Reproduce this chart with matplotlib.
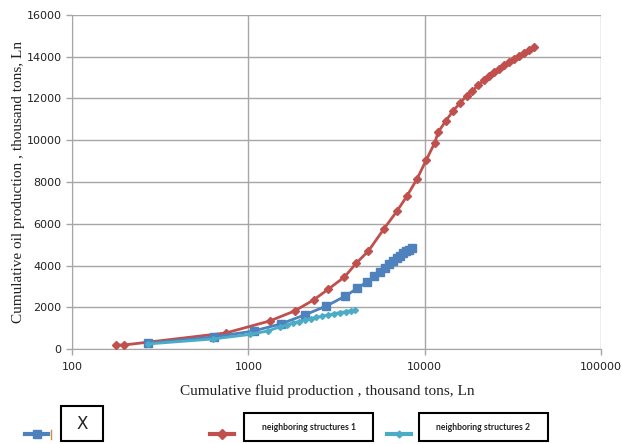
import numpy as np
import matplotlib
matplotlib.use("Agg")
import matplotlib.pyplot as plt
from matplotlib.lines import Line2D
from matplotlib.patches import Rectangle

# well X
x_fluid = [269, 636, 1072, 1523, 2083, 2774, 3553, 4155, 4733, 5185,
           5607, 5984, 6305, 6641, 6998, 7278, 7568, 7870, 8184, 8511]
x_oil = [273, 575, 862, 1198, 1629, 2060, 2539, 2908, 3233, 3497,
         3688, 3880, 4048, 4215, 4359, 4479, 4598, 4694, 4766, 4838]

# neighboring structures 1
n1_fluid = [177, 197, 744, 1320, 1828, 2342, 2848, 3508, 4101, 4795,
            5869, 6970, 7940, 9046, 10210, 11410, 11940, 13200, 14520, 15910,
            17270, 18670, 20180, 21750, 23210, 24790, 26440, 28220, 30110, 32140,
            34300, 36600, 39060, 41690]
n1_oil = [192, 192, 766, 1341, 1820, 2347, 2874, 3449, 4119, 4694,
          5748, 6610, 7329, 8143, 9053, 9882, 10394, 10936, 11415, 11798,
          12119, 12373, 12646, 12885, 13077, 13268, 13436, 13604, 13771, 13915,
          14059, 14202, 14346, 14490]

# neighboring structures 2
n2_fluid = [269, 628, 1017, 1286, 1504, 1648, 1781, 1926, 2083, 2252,
            2435, 2633, 2848, 3079, 3330, 3601, 3842, 4048]
n2_oil = [240, 479, 695, 862, 1054, 1150, 1245, 1317, 1389, 1461,
          1509, 1581, 1629, 1700, 1748, 1796, 1844, 1868]

blue = "#4f81bd"
red = "#c0504d"
cyan = "#4bacc6"
grid_c = "#a6a6a6"
W, H = 622, 444

fig = plt.figure(figsize=(6.22, 4.44), dpi=100)
ax = fig.add_axes([72 / W, 1 - 349 / H, 529 / W, 334 / H])

ax.plot(n1_fluid, n1_oil, color=red, lw=2, marker="D", ms=4.5, zorder=3)
ax.plot(x_fluid, x_oil, color=blue, lw=2, marker="s", ms=6, zorder=4)
ax.plot(n2_fluid, n2_oil, color=cyan, lw=2, marker="D", ms=3, zorder=5)

ax.set_xscale("log")
ax.set_xlim(100, 100000)
ax.set_ylim(0, 16000)
ax.set_yticks(np.arange(0, 16001, 2000))
ax.set_xticks([100, 1000, 10000, 100000])
ax.set_xticklabels(["100", "1000", "10000", "100000"])
ax.minorticks_off()
ax.grid(True, color=grid_c, lw=1)
for s in ["top", "right"]:
    ax.spines[s].set_visible(False)
for s in ["left", "bottom"]:
    ax.spines[s].set_color(grid_c)
ax.tick_params(axis="both", colors=grid_c, labelcolor="#222222", labelsize=8,
               length=4, width=1)
ax.tick_params(axis="x", pad=5)

ax.set_ylabel("Cumulative oil production , thousand tons, Ln",
              family="Liberation Serif", fontsize=11, color="#222222", labelpad=1)
ax.set_xlabel("Cumulative fluid production , thousand tons, Ln",
              family="Liberation Serif", fontsize=11, color="#222222", labelpad=7)
ax.xaxis.set_label_coords(0.483, -0.105)

# custom legend along the bottom
def leg_line(x0, x1, color, marker, ms):
    fig.add_artist(Line2D([x0 / W, x1 / W], [1 - 434 / H] * 2,
                          transform=fig.transFigure, color=color, lw=3))
    fig.add_artist(Line2D([(x0 + x1) / 2 / W], [1 - 434 / H],
                          transform=fig.transFigure, color=color, marker=marker,
                          ms=ms, lw=0))

def leg_box(x0, x1, y0, y1, label, **kw):
    fig.add_artist(Rectangle((x0 / W, 1 - y1 / H), (x1 - x0) / W, (y1 - y0) / H,
                             transform=fig.transFigure, fc="white", ec="black",
                             lw=1.5))
    fig.text((x0 + x1) / 2 / W, 1 - (y0 + y1) / 2 / H, label, ha="center",
             va="center", color="#222222", **kw)

leg_line(25, 48, blue, "s", 6)
fig.add_artist(Line2D([51 / W] * 2, [1 - 439 / H, 1 - 430 / H],
                      transform=fig.transFigure, color="#c09050", lw=1))
leg_line(210, 234, red, "D", 5)
leg_line(387, 411, cyan, "D", 3.5)

leg_box(61, 103, 406, 441, "X", fontsize=12)
leg_box(244, 373, 413, 441, "neighboring structures 1", fontsize=6.2,
        family="Lato", fontweight="bold")
leg_box(419, 548, 413, 441, "neighboring structures 2", fontsize=6.2,
        family="Lato", fontweight="bold")

fig.savefig("out.png", dpi=100)
